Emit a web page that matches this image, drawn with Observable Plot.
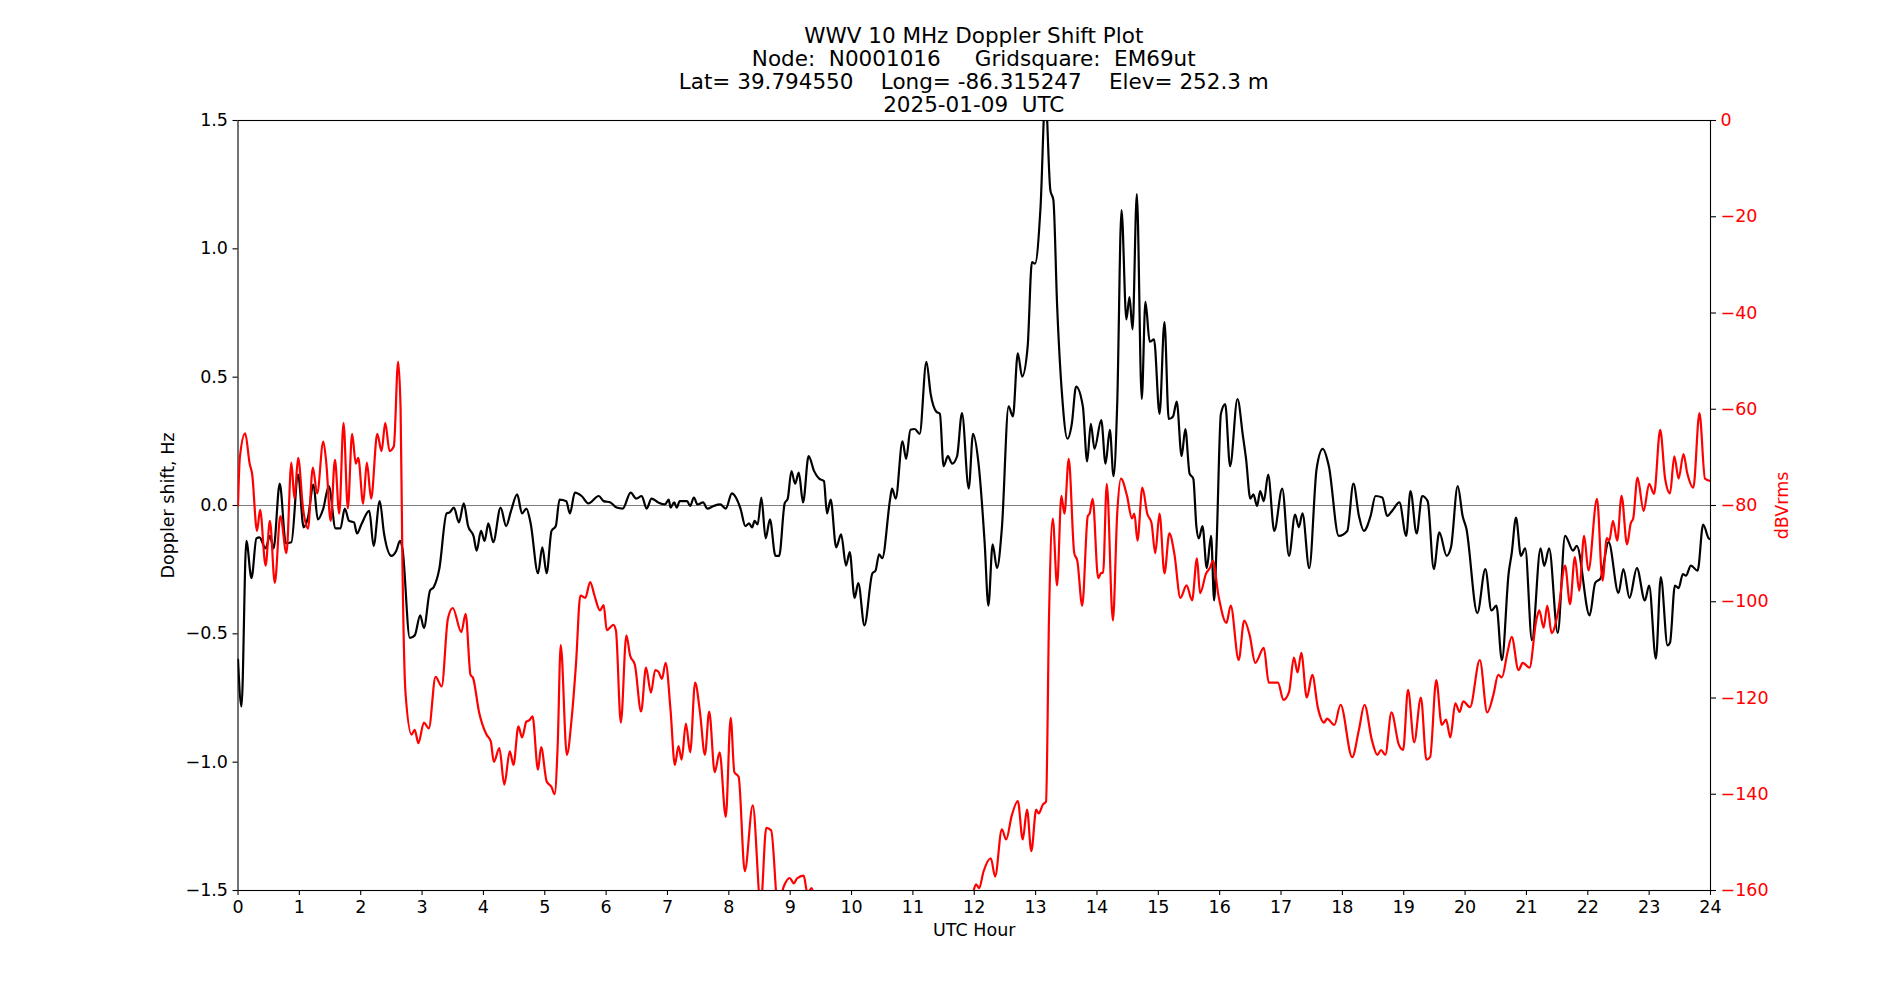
<!DOCTYPE html>
<html>
<head>
<meta charset="utf-8">
<script src="https://cdn.jsdelivr.net/npm/d3@7"></script>
<script src="https://cdn.jsdelivr.net/npm/@observablehq/plot@0.6"></script>
<style>
  html, body { margin: 0; padding: 0; background: white; overflow: hidden; }
  #wrap { position: relative; width: 1900px; height: 1000px; font-family: "DejaVu Sans", sans-serif; }
  #title { position: absolute; left: 973.75px; top: 23.5px; transform: translateX(-50%);
           text-align: center; font-size: 21.5px; line-height: 23px; white-space: pre; color: black; }
  .layer { position: absolute; left: 0; top: 110px; }
</style>
</head>
<body>
<div id="wrap">
  <div id="title"></div>
  <div id="chart1" class="layer"></div>
  <div id="chart2" class="layer"></div>
</div>
<script>
// ---- Text ----
const titleLines = [
  "WWV 10 MHz Doppler Shift Plot",
  "Node:  N0001016     Gridsquare:  EM69ut",
  "Lat= 39.794550    Long= -86.315247    Elev= 252.3 m",
  "2025-01-09  UTC"
];
const xLabel = "UTC Hour";
const leftLabel = "Doppler shift, Hz";
const rightLabel = "dBVrms";

// ---- Ticks ----
const hourTicks = [0,1,2,3,4,5,6,7,8,9,10,11,12,13,14,15,16,17,18,19,20,21,22,23,24];
const dopplerTicks = [-1.5,-1.0,-0.5,0.0,0.5,1.0,1.5];
const dbTicks = [0,-20,-40,-60,-80,-100,-120,-140,-160];

// ---- Doppler shift series (black, left axis) ----
const dopplerHour = [
 0.00,0.057,0.136,0.22,0.30,0.35,0.45,0.52,0.58,0.68,0.78,0.87,0.98,1.07,1.14,1.23,1.30,1.39,1.48,1.59,
 1.67,1.74,1.81,1.89,1.94,2.01,2.14,2.21,2.31,2.38,2.50,2.58,2.64,2.68,2.80,2.88,2.97,3.03,3.13,3.19,
 3.28,3.40,3.45,3.52,3.60,3.68,3.75,3.84,3.89,3.96,4.02,4.08,4.16,4.28,4.37,4.45,4.55,4.63,4.70,4.77,
 4.89,4.96,5.03,5.11,5.18,5.24,5.35,5.41,5.49,5.60,5.71,5.88,5.96,6.07,6.17,6.27,6.40,6.49,6.58,6.66,
 6.74,6.85,6.96,7.02,7.05,7.11,7.15,7.20,7.32,7.37,7.43,7.49,7.58,7.65,7.75,7.86,7.95,8.05,8.19,8.27,
 8.33,8.38,8.42,8.47,8.53,8.60,8.67,8.76,8.82,8.91,8.96,9.02,9.08,9.14,9.21,9.30,9.39,9.47,9.55,9.60,
 9.66,9.75,9.83,9.91,9.97,10.05,10.11,10.21,10.34,10.39,10.45,10.50,10.63,10.66,10.72,10.83,10.89,10.96,11.03,11.11,
 11.22,11.29,11.38,11.44,11.50,11.57,11.64,11.72,11.80,11.91,11.98,12.07,12.17,12.23,12.30,12.37,12.45,12.56,12.63,12.71,
 12.78,12.87,12.94,12.99,13.08,13.16,13.24,13.29,13.35,13.43,13.52,13.59,13.66,13.77,13.84,13.90,13.96,14.07,14.14,14.21,
 14.27,14.33,14.40,14.48,14.53,14.58,14.65,14.73,14.79,14.86,14.93,15.02,15.10,15.17,15.24,15.30,15.38,15.44,15.51,15.57,
 15.62,15.66,15.72,15.79,15.86,15.91,15.95,16.02,16.09,16.17,16.29,16.38,16.43,16.50,16.55,16.61,16.66,16.72,16.79,16.89,
 17.02,17.13,17.23,17.29,17.35,17.46,17.58,17.68,17.78,17.94,18.08,18.18,18.27,18.35,18.46,18.54,18.65,18.73,18.81,18.93,
 19.04,19.11,19.21,19.30,19.39,19.49,19.58,19.70,19.77,19.88,19.96,20.02,20.20,20.33,20.43,20.51,20.60,20.71,20.76,20.83,
 20.91,20.98,21.09,21.23,21.29,21.37,21.51,21.63,21.76,21.82,22.03,22.12,22.21,22.34,22.50,22.58,22.68,22.80,22.93,23.00,
 23.11,23.19,23.30,23.34,23.42,23.48,23.55,23.60,23.68,23.79,23.88,23.97,24.00
];
const dopplerHz = [
 -0.60,-0.783,-0.138,-0.283,-0.128,-0.124,-0.167,-0.118,-0.167,0.085,-0.147,-0.143,0.12,-0.085,-0.047,0.081,-0.054,-0.012,0.076,-0.089,
 -0.089,-0.012,-0.06,-0.066,-0.109,-0.074,-0.021,-0.157,0.017,-0.109,-0.196,-0.176,-0.138,-0.167,-0.516,-0.506,-0.428,-0.477,-0.331,-0.318,
 -0.248,-0.031,-0.027,-0.008,-0.066,0.008,-0.08,-0.12,-0.176,-0.099,-0.138,-0.07,-0.143,-0.008,-0.08,-0.021,0.043,-0.031,-0.012,-0.07,
 -0.264,-0.163,-0.264,-0.099,-0.08,0.023,0.017,-0.031,0.05,0.037,0.008,0.037,0.017,0.012,-0.008,-0.012,0.05,0.027,0.037,-0.012,
 0.027,0.012,0.004,0.023,-0.008,0.012,-0.008,0.017,0.017,-0.002,0.031,0.004,0.012,-0.012,-0.002,0.004,-0.012,0.047,-0.012,-0.08,
 -0.07,-0.085,-0.06,-0.074,0.031,-0.128,-0.054,-0.196,-0.196,0.008,0.027,0.134,0.085,0.128,0.012,0.192,0.134,0.105,0.095,-0.031,
 0.023,-0.163,-0.112,-0.234,-0.182,-0.36,-0.302,-0.467,-0.264,-0.254,-0.19,-0.205,0.027,0.066,0.027,0.25,0.182,0.295,0.298,0.279,
 0.56,0.434,0.366,0.357,0.153,0.192,0.163,0.192,0.36,0.066,0.279,0.163,-0.147,-0.39,-0.151,-0.244,-0.089,0.386,0.347,0.593,
 0.502,0.618,0.948,0.942,1.161,1.6,1.229,1.19,0.783,0.434,0.26,0.318,0.463,0.386,0.172,0.318,0.221,0.333,0.163,0.295,
 0.114,0.395,1.151,0.725,0.812,0.686,1.213,0.415,0.793,0.638,0.647,0.357,0.715,0.337,0.347,0.405,0.192,0.298,0.124,0.105,
 -0.08,-0.128,-0.08,-0.244,-0.118,-0.37,-0.15,0.357,0.395,0.153,0.415,0.269,0.182,0.027,0.043,-0.002,0.056,0.017,0.12,-0.099,
 0.066,-0.196,-0.035,-0.085,-0.031,-0.244,0.143,0.221,0.153,-0.118,-0.099,0.085,-0.041,-0.099,-0.041,0.037,0.031,-0.041,-0.021,0.012,
 -0.118,0.056,-0.109,0.037,0.017,-0.248,-0.105,-0.196,-0.163,0.076,-0.041,-0.089,-0.419,-0.248,-0.409,-0.39,-0.603,-0.264,-0.186,-0.047,
 -0.196,-0.167,-0.525,-0.167,-0.235,-0.167,-0.496,-0.118,-0.176,-0.157,-0.428,-0.302,-0.283,-0.143,-0.341,-0.248,-0.36,-0.244,-0.37,-0.312,
 -0.597,-0.279,-0.545,-0.535,-0.312,-0.322,-0.267,-0.273,-0.234,-0.254,-0.074,-0.128,-0.132
];

// ---- Signal level series (red, right axis) ----
const signalHour = [
 0.00,0.03,0.117,0.19,0.23,0.31,0.36,0.45,0.52,0.60,0.69,0.79,0.87,0.92,0.98,1.06,1.14,1.22,1.29,1.39,
 1.44,1.51,1.58,1.65,1.72,1.79,1.86,1.92,1.96,2.04,2.10,2.17,2.27,2.34,2.40,2.47,2.54,2.61,2.65,2.68,
 2.73,2.83,2.88,2.94,3.03,3.11,3.22,3.32,3.42,3.50,3.64,3.71,3.79,3.83,3.93,4.05,4.12,4.17,4.26,4.34,
 4.43,4.49,4.57,4.63,4.70,4.75,4.80,4.89,4.94,5.03,5.11,5.16,5.21,5.26,5.36,5.44,5.51,5.58,5.66,5.74,
 5.81,5.90,5.96,6.01,6.12,6.16,6.24,6.33,6.39,6.47,6.57,6.65,6.73,6.80,6.85,6.91,6.97,7.05,7.12,7.18,
 7.23,7.30,7.37,7.45,7.53,7.61,7.68,7.77,7.85,7.95,8.03,8.09,8.16,8.26,8.39,8.52,8.61,8.69,8.80,8.90,
 8.99,9.06,9.11,9.22,9.28,9.35,9.45,10.0,10.5,11.0,11.5,11.90,11.99,12.03,12.08,12.15,12.27,12.34,12.45,12.52,
 12.61,12.71,12.79,12.86,12.93,13.01,13.05,13.12,13.17,13.22,13.28,13.35,13.42,13.47,13.54,13.63,13.68,13.76,13.85,13.88,
 13.93,14.02,14.07,14.10,14.16,14.26,14.33,14.39,14.49,14.57,14.61,14.66,14.74,14.82,14.89,14.95,15.02,15.10,15.18,15.26,
 15.36,15.46,15.55,15.63,15.68,15.78,15.84,15.89,15.98,16.11,16.18,16.31,16.40,16.49,16.58,16.72,16.80,16.95,17.04,17.13,
 17.21,17.27,17.33,17.42,17.51,17.60,17.70,17.75,17.87,17.97,18.16,18.27,18.36,18.48,18.57,18.63,18.70,18.80,18.92,18.99,
 19.07,19.17,19.28,19.37,19.43,19.53,19.62,19.69,19.76,19.84,19.91,19.97,20.08,20.24,20.36,20.46,20.54,20.60,20.69,20.76,
 20.87,20.94,21.05,21.16,21.21,21.28,21.34,21.41,21.52,21.63,21.71,21.79,21.86,21.94,22.01,22.15,22.24,22.31,22.35,22.41,
 22.48,22.55,22.64,22.70,22.74,22.81,22.91,23.00,23.08,23.18,23.26,23.34,23.41,23.48,23.56,23.62,23.72,23.82,23.91,24.00
];
const signalDb = [
 -80,-70,-65,-71.3,-73.4,-85.3,-80.9,-92.5,-83.2,-96.1,-82.2,-89.9,-71.1,-78.6,-70.1,-80.6,-84.8,-72.1,-77.5,-66.7,
 -71.3,-83.2,-70.5,-81.7,-62.8,-80.6,-65.1,-71.3,-70.1,-79.6,-71.1,-78.6,-65.1,-68.7,-62.8,-68.7,-67.7,-50.1,-60,-92,
 -118.9,-127.6,-126.6,-129.4,-125.1,-126.3,-115.6,-117.6,-103.6,-101.3,-106.3,-102.5,-115.2,-115.8,-123,-127.6,-129,-133.3,-130.4,-138,
 -131.1,-133.9,-125.9,-128.2,-124.9,-124.6,-123.8,-134.9,-130.2,-137.3,-138.5,-140,-130,-109,-131.8,-124,-112.7,-98.7,-99.2,-95.9,
 -98.7,-101.8,-100.7,-105.9,-104.8,-106,-125.1,-107,-111.1,-113.2,-122.8,-113.7,-118.9,-114.2,-114.5,-116,-112.7,-122.5,-133.9,-130,
 -132.8,-125.3,-131.3,-116.8,-123,-131.8,-122.8,-135.4,-131.3,-144.7,-124.1,-135.4,-136.4,-156,-142.3,-163,-147,-147.5,-163,-159,
 -157.4,-158.5,-157.5,-156.9,-160.5,-159.5,-168,-172,-172,-172,-172,-168,-160,-158.7,-159.5,-156.1,-153.3,-157.1,-147.3,-149.4,
 -144.5,-141.4,-149.4,-143.2,-151.8,-143.2,-144,-142.1,-141.5,-102.3,-82.7,-96.6,-78,-81.7,-70.3,-89.9,-91.5,-100.8,-82.2,-81.7,
 -78.6,-95.1,-94,-94,-75.5,-103.9,-81.7,-74.4,-78,-82.7,-81.7,-87.3,-76.3,-81.7,-83.7,-89.9,-81.7,-94.1,-85.8,-89.9,
 -99.2,-96.6,-99.7,-91,-98.2,-94.1,-93,-91.5,-98.7,-104.4,-100.8,-112.1,-103.9,-107,-112.7,-109.6,-116.8,-116.8,-120.4,-118.8,
 -111.6,-114.7,-110.6,-119.9,-115.2,-122,-125.1,-124.3,-125.6,-121.4,-132.3,-126.6,-121.4,-128.7,-131.8,-130.8,-131.8,-123,-129.7,-130.8,
 -118.3,-129.2,-119.9,-132.8,-132.3,-116.3,-125.6,-124.5,-128.2,-121.1,-122.9,-120.7,-121.9,-112.1,-123,-119.4,-115.2,-115.7,-110.6,-107.3,
 -114.2,-112.7,-113.7,-103.9,-101.8,-105.4,-100.8,-106.5,-101.8,-92.5,-100.5,-90.7,-97.7,-86.3,-93.5,-78.6,-95.6,-86.8,-87.3,-83.2,
 -87.3,-78,-88.1,-83.7,-82.7,-74.2,-81.1,-75.5,-77.6,-64.3,-74.4,-77.5,-69.8,-74.4,-69.3,-73.2,-76.3,-60.8,-74.4,-74.9
];

// ---- Title ----
document.getElementById("title").textContent = titleLines.join("\n");

// ---- Shared layout ----
const W = 1900, H = 890;
const M = {marginTop: 10, marginBottom: 110, marginLeft: 237.5, marginRight: 190};
const FONT = {fontFamily: "'DejaVu Sans', sans-serif", fontSize: "17.5px", background: "transparent", color: "black"};

// ---- Layer 1: Doppler shift (left axis, x axis) ----
const p1 = Plot.plot({
  width: W, height: H, ...M,
  style: FONT,
  x: {domain: [0, 24], axis: null},
  y: {domain: [-1.5, 1.5], axis: null},
  marks: [
    Plot.ruleY([0], {stroke: "gray", strokeWidth: 1}),
    Plot.line(dopplerHour, {x: dopplerHour, y: dopplerHz, stroke: "black", strokeWidth: 2.2, curve: "monotone-x", clip: true}),
    Plot.frame({stroke: "black", strokeWidth: 1.1}),
    Plot.axisX({ticks: hourTicks, tickFormat: d => String(d), tickSize: 5, tickPadding: 5, label: null, strokeWidth: 1.1}),
    Plot.axisY({ticks: dopplerTicks, tickFormat: d3.format(".1f"), tickSize: 5, tickPadding: 5, label: null, strokeWidth: 1.1}),
    Plot.text([xLabel], {text: d => d, frameAnchor: "bottom", lineAnchor: "middle", textAnchor: "middle", dy: 40}),
    Plot.text([leftLabel], {text: d => d, frameAnchor: "left", lineAnchor: "middle", textAnchor: "middle", dx: -70, rotate: -90})
  ]
});
document.getElementById("chart1").appendChild(p1);

// ---- Layer 2: signal level (right axis) ----
const p2 = Plot.plot({
  width: W, height: H, ...M,
  style: FONT,
  x: {domain: [0, 24], axis: null},
  y: {domain: [-160, 0], axis: null},
  marks: [
    Plot.line(signalHour, {x: signalHour, y: signalDb, stroke: "red", strokeWidth: 2.2, curve: "monotone-x", clip: true}),
    Plot.axisY({anchor: "right", ticks: dbTicks, tickSize: 5, tickPadding: 5, tickFormat: d3.format("d"),
                stroke: "black", fill: "red", strokeWidth: 1.1, label: null}),
    Plot.text([rightLabel], {text: d => d, frameAnchor: "right", lineAnchor: "middle", textAnchor: "middle", dx: 72, rotate: -90, fill: "red"})
  ]
});
document.getElementById("chart2").appendChild(p2);
</script>
</body>
</html>
